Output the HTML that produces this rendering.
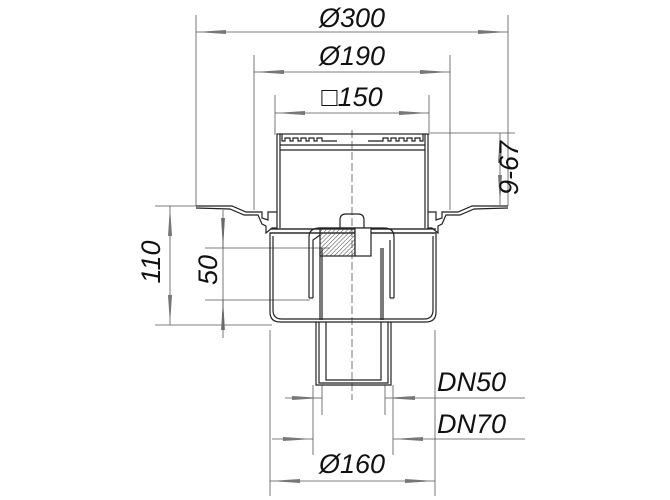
<!DOCTYPE html>
<html><head><meta charset="utf-8"><style>
html,body{margin:0;padding:0;background:#fff;width:670px;height:500px;overflow:hidden}
svg{display:block}
text{font-family:"Liberation Sans",sans-serif;font-style:italic;fill:#111}
</style></head><body>
<svg width="670" height="500" viewBox="0 0 670 500" xmlns="http://www.w3.org/2000/svg">
<defs>
<pattern id="h" width="3" height="3" patternUnits="userSpaceOnUse" patternTransform="rotate(45)">
<line x1="0" y1="0" x2="0" y2="3" stroke="#444" stroke-width="1"/></pattern>
<marker id="a" markerWidth="30" markerHeight="6" refX="30" refY="3" orient="auto" markerUnits="userSpaceOnUse">
<path d="M0,1 L30,3 L0,5 Z" fill="#777"/></marker>
</defs>
<g stroke="#555" stroke-width="0.8" fill="none">
<line x1="196" y1="15" x2="196" y2="206"/>
<line x1="508" y1="15" x2="508" y2="206"/>
<line x1="254" y1="55" x2="254" y2="210"/>
<line x1="450" y1="55" x2="450" y2="210"/>
<line x1="275" y1="95" x2="275" y2="135"/>
<line x1="429" y1="95" x2="429" y2="135"/>
<line x1="430" y1="133" x2="515" y2="133"/>
<line x1="155" y1="206" x2="196" y2="206"/>
<line x1="155" y1="325" x2="272" y2="325"/>
<line x1="205" y1="248" x2="330" y2="248"/>
<line x1="205" y1="300" x2="310" y2="300"/>
<line x1="270" y1="330" x2="270" y2="496"/>
<line x1="435" y1="330" x2="435" y2="496"/>
<line x1="313" y1="385" x2="313" y2="455"/>
<line x1="393" y1="385" x2="393" y2="455"/>
<line x1="322" y1="385" x2="322" y2="415"/>
<line x1="385" y1="385" x2="385" y2="415"/>
<line x1="226" y1="32" x2="196" y2="32" marker-end="url(#a)"/>
<line x1="478" y1="32" x2="508" y2="32" marker-end="url(#a)"/>
<line x1="226" y1="32" x2="478" y2="32"/>
<line x1="284" y1="72" x2="254" y2="72" marker-end="url(#a)"/>
<line x1="420" y1="72" x2="450" y2="72" marker-end="url(#a)"/>
<line x1="284" y1="72" x2="420" y2="72"/>
<line x1="305" y1="113" x2="275" y2="113" marker-end="url(#a)"/>
<line x1="399" y1="113" x2="429" y2="113" marker-end="url(#a)"/>
<line x1="305" y1="113" x2="399" y2="113"/>
<line x1="500" y1="163" x2="500" y2="133" marker-end="url(#a)"/>
<line x1="500" y1="175" x2="500" y2="205" marker-end="url(#a)"/>
<line x1="500" y1="163" x2="500" y2="175"/>
<line x1="170" y1="236" x2="170" y2="206" marker-end="url(#a)"/>
<line x1="170" y1="295" x2="170" y2="325" marker-end="url(#a)"/>
<line x1="170" y1="236" x2="170" y2="295"/>
<line x1="223" y1="218" x2="223" y2="248" marker-end="url(#a)"/>
<line x1="223" y1="330" x2="223" y2="300" marker-end="url(#a)"/>
<line x1="223" y1="210" x2="223" y2="338"/>
<line x1="285" y1="398" x2="322" y2="398" marker-end="url(#a)"/>
<line x1="525" y1="398" x2="385" y2="398" marker-end="url(#a)"/>
<line x1="272" y1="439" x2="313" y2="439" marker-end="url(#a)"/>
<line x1="525" y1="439" x2="393" y2="439" marker-end="url(#a)"/>
<line x1="300" y1="481" x2="270" y2="481" marker-end="url(#a)"/>
<line x1="405" y1="481" x2="435" y2="481" marker-end="url(#a)"/>
<line x1="300" y1="481" x2="405" y2="481"/>
<line x1="352" y1="130" x2="352" y2="400" stroke-dasharray="8,3"/>
</g>
<g stroke="#222" stroke-width="1.2" fill="none">
<path d="M196,206 L232,206 L246,212 L262,212 L262,218 L268,220 L268,212 L277,212"/>
<path d="M196,208 L230,209 L244,215 L258,215 L262,224 L266,226 L266,233 L272,228 L277,228" />
<path d="M508,206 L472,206 L458,212 L442,212 L442,218 L436,220 L436,212 L428,212"/>
<path d="M508,208 L474,209 L460,215 L446,215 L442,224 L438,226 L438,233 L432,228 L428,228"/>
<rect x="277" y="134" width="151" height="95" fill="none"/>
<line x1="280" y1="145" x2="425" y2="145"/>
<line x1="280" y1="150" x2="425" y2="150"/>
<path d="M282,134 l0,7 l3,0 l0,-3 l5,0 l0,3 l3,0 l0,-3 l5,0 l0,3 l3,0 l0,-3 l5,0 l0,3 l3,0 l0,-3 l5,0 l0,3 l3,0 l0,-3 l5,0 l0,3 l15,0"/>
<path d="M423,134 l0,7 l-3,0 l0,-3 l-5,0 l0,3 l-3,0 l0,-3 l-5,0 l0,3 l-3,0 l0,-3 l-5,0 l0,3 l-3,0 l0,-3 l-5,0 l0,3 l-3,0 l0,-3 l-5,0 l0,3 l-15,0"/>
<line x1="280" y1="134" x2="280" y2="228"/>
<line x1="425" y1="134" x2="425" y2="228"/>
<path d="M270,233 L270,312 Q270,322 280,322 L426,322 Q436,322 436,312 L436,233 Z"/>
<path d="M273,236 L273,310 Q273,319 282,319 L424,319 Q433,319 433,310 L433,236"/>
<line x1="270" y1="233" x2="436" y2="233"/>
<line x1="270" y1="229" x2="436" y2="229"/>
<path d="M309,298 L309,237 Q309,228 320,228 L384,228 Q394,228 394,237 L394,298"/>
<path d="M313,298 L313,240 L320,235"/>
<path d="M390,298 L390,240"/>
<line x1="309" y1="298" x2="313" y2="298"/>
<line x1="390" y1="298" x2="394" y2="298"/>
<line x1="320" y1="248" x2="320" y2="320"/>
<line x1="322" y1="248" x2="322" y2="320"/>
<line x1="383" y1="248" x2="383" y2="320"/>
<line x1="381" y1="248" x2="381" y2="320"/>
<rect x="320" y="228" width="35" height="28" fill="url(#h)"/>
<rect x="355" y="228" width="16" height="28" fill="#fff"/>
<path d="M340,228 L340,220 Q340,214 346,214 L358,214 Q364,214 364,220 L364,228"/>
<path d="M316,322 L316,385 L391,385 L391,322"/>
<path d="M319,322 L319,383 L388,383 L388,322"/>
<path d="M326,322 L326,380 L381,380 L381,322"/>
</g>
<g font-size="27">
<text x="352" y="27" text-anchor="middle">Ø300</text>
<text x="352" y="65" text-anchor="middle">Ø190</text>
<text x="352" y="106" text-anchor="middle">□150</text>
<text x="437" y="391">DN50</text>
<text x="437" y="433">DN70</text>
<text x="352" y="473" text-anchor="middle">Ø160</text>
<text transform="translate(160,262) rotate(-90)" text-anchor="middle">110</text>
<text transform="translate(217,270) rotate(-90)" text-anchor="middle">50</text>
<text transform="translate(518,168) rotate(-90)" text-anchor="middle">9-67</text>
</g>
</svg>
</body></html>
